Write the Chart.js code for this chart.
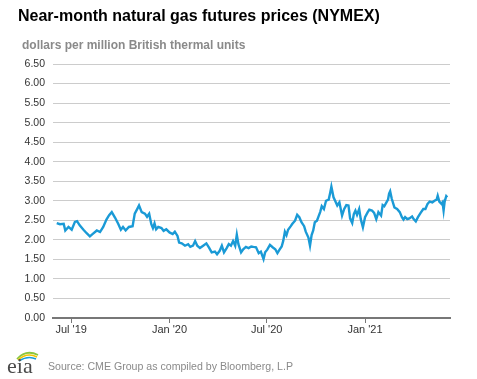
<!DOCTYPE html>
<html>
<head>
<meta charset="utf-8">
<script src="https://cdn.jsdelivr.net/npm/chart.js@4/dist/chart.umd.min.js"></script>
<style>
  html, body { margin:0; padding:0; background:#fff; }
  #wrap { position:relative; width:477px; height:379px; overflow:hidden; font-family:"Liberation Sans", Arial, sans-serif; }
  #c { position:absolute; left:0; top:0; }
  .title { position:absolute; left:18px; top:7px; font-size:16px; font-weight:bold; color:#000; white-space:nowrap; }
  .sub { position:absolute; left:22px; top:38px; font-size:12px; font-weight:bold; color:#8a8a8a; white-space:nowrap; }
  .src { position:absolute; left:48px; top:360px; font-size:10.6px; color:#8a8a8a; white-space:nowrap; }
  #logo { position:absolute; left:6px; top:346px; }
</style>
</head>
<body>
<div id="wrap">
  <canvas id="c" width="477" height="379"></canvas>
  <div class="title">Near-month natural gas futures prices (NYMEX)</div>
  <div class="sub">dollars per million British thermal units</div>
  <svg id="logo" width="36" height="30" viewBox="0 0 36 30">
    <path d="M11 13 Q20 3 32 9" stroke="#8cc63f" stroke-width="1.8" fill="none"/>
    <path d="M12 14 Q21 6 31 11" stroke="#f2c500" stroke-width="1.5" fill="none"/>
    <path d="M13 15 Q22 9 30 13" stroke="#1a9cd8" stroke-width="1.5" fill="none"/>
    <text x="1" y="27" font-family="Liberation Serif, DejaVu Serif, serif" font-size="22" fill="#4a4a4a">eia</text>
  </svg>
  <div class="src">Source: CME Group as compiled by Bloomberg, L.P</div>
</div>
<script>
const dates = [
 '2019-06-04','2019-06-10','2019-06-17','2019-06-20','2019-06-26','2019-07-02','2019-07-08','2019-07-12','2019-07-17','2019-07-24',
 '2019-07-30','2019-08-05','2019-08-11','2019-08-18','2019-08-24','2019-08-30','2019-09-05','2019-09-10','2019-09-15','2019-09-21',
 '2019-09-27','2019-10-02','2019-10-06','2019-10-11','2019-10-17','2019-10-24','2019-10-28','2019-11-02','2019-11-05','2019-11-10',
 '2019-11-16','2019-11-20','2019-11-24','2019-11-28','2019-12-01','2019-12-04','2019-12-07','2019-12-11','2019-12-17','2019-12-21',
 '2019-12-26','2020-01-01','2020-01-07','2020-01-11','2020-01-16','2020-01-19','2020-01-24','2020-01-30','2020-02-05','2020-02-09',
 '2020-02-14','2020-02-18','2020-02-22','2020-02-27','2020-03-04','2020-03-10','2020-03-15','2020-03-20','2020-03-26','2020-03-30',
 '2020-04-04','2020-04-08','2020-04-12','2020-04-17','2020-04-21','2020-04-25','2020-04-29','2020-05-03','2020-05-06','2020-05-09',
 '2020-05-14','2020-05-18','2020-05-23','2020-05-28','2020-06-02','2020-06-06','2020-06-11','2020-06-16','2020-06-20','2020-06-25',
 '2020-06-28','2020-07-02','2020-07-07','2020-07-12','2020-07-17','2020-07-21','2020-07-25','2020-07-29','2020-08-01','2020-08-04',
 '2020-08-07','2020-08-10','2020-08-15','2020-08-18','2020-08-23','2020-08-27','2020-08-31','2020-09-04','2020-09-09','2020-09-12',
 '2020-09-17','2020-09-20','2020-09-23','2020-09-26','2020-09-29','2020-10-03','2020-10-06','2020-10-09','2020-10-12','2020-10-16',
 '2020-10-20','2020-10-25','2020-10-28','2020-10-30','2020-11-03','2020-11-06','2020-11-10','2020-11-14','2020-11-19','2020-11-23',
 '2020-11-27','2020-12-01','2020-12-04','2020-12-08','2020-12-11','2020-12-14','2020-12-17','2020-12-21','2020-12-24','2020-12-28',
 '2021-01-01','2021-01-06','2021-01-09','2021-01-14','2021-01-18','2021-01-22','2021-01-26','2021-01-31','2021-02-03','2021-02-06',
 '2021-02-10','2021-02-13','2021-02-15','2021-02-17','2021-02-20','2021-02-25','2021-03-02','2021-03-07','2021-03-11','2021-03-14',
 '2021-03-17','2021-03-21','2021-03-25','2021-03-30','2021-04-02','2021-04-06','2021-04-10','2021-04-15','2021-04-20','2021-04-24',
 '2021-04-28','2021-05-02','2021-05-07','2021-05-11','2021-05-15','2021-05-17','2021-05-20','2021-05-24','2021-05-26','2021-05-28',
 '2021-05-30','2021-06-02','2021-06-04'
];
const prices = [
 2.43,2.40,2.41,2.24,2.33,2.26,2.46,2.48,2.37,2.26,
 2.17,2.09,2.16,2.24,2.20,2.33,2.52,2.63,2.71,2.57,
 2.41,2.26,2.33,2.24,2.33,2.35,2.67,2.80,2.88,2.71,
 2.67,2.59,2.67,2.40,2.30,2.42,2.27,2.33,2.30,2.23,
 2.27,2.19,2.15,2.21,2.10,1.93,1.91,1.85,1.89,1.82,
 1.85,1.97,1.85,1.79,1.85,1.91,1.80,1.68,1.70,1.63,
 1.72,1.85,1.68,1.79,1.89,1.85,1.97,1.85,2.13,1.89,
 1.68,1.76,1.82,1.79,1.83,1.82,1.81,1.66,1.70,1.51,
 1.68,1.75,1.87,1.81,1.76,1.66,1.75,1.83,1.98,2.21,
 2.12,2.26,2.35,2.41,2.49,2.64,2.58,2.45,2.35,2.21,
 2.06,1.85,2.12,2.24,2.45,2.49,2.60,2.71,2.86,2.79,
 3.00,3.03,3.22,3.36,3.09,3.00,2.88,2.96,2.62,2.79,
 2.89,2.88,2.55,2.43,2.66,2.75,2.64,2.79,2.53,2.32,
 2.58,2.71,2.77,2.75,2.69,2.53,2.71,2.62,2.89,2.86,
 2.96,3.03,3.18,3.24,3.05,2.83,2.79,2.71,2.58,2.52,
 2.58,2.53,2.55,2.60,2.53,2.47,2.58,2.69,2.79,2.79,
 2.92,2.98,2.96,3.00,3.03,3.13,2.98,2.92,2.96,2.75,
 2.98,3.12,3.09
];
const xTickDates = ['2019-07-01','2020-01-01','2020-07-01','2021-01-01'];
const xTickLabels = ["Jul '19","Jan '20","Jul '20","Jan '21"];
const xRange = ['2019-05-28','2021-06-09'];
const yTickMin = 0, yTickMax = 6.5, yTickStep = 0.5;

const toDay = s => Date.parse(s + 'T00:00:00Z') / 864e5;
const tickVals = xTickDates.map(toDay);
const points = dates.map((d, i) => ({ x: toDay(d), y: prices[i] }));
const FONT = '"Liberation Sans", Arial, sans-serif';

new Chart(document.getElementById('c'), {
  type: 'line',
  data: { datasets: [{ data: points, borderColor: '#1a9ad6', borderWidth: 2.4, pointRadius: 0, tension: 0, fill: false }] },
  options: {
    responsive: false, animation: false,
    layout: { padding: { top: 64, right: 27, left: 0, bottom: 0 } },
    plugins: { legend: { display: false }, tooltip: { enabled: false } },
    scales: {
      x: {
        type: 'linear', min: toDay(xRange[0]), max: toDay(xRange[1]),
        afterBuildTicks: s => { s.ticks = tickVals.map(v => ({ value: v })); },
        afterFit: s => { s.height = 61; },
        ticks: { autoSkip: false, maxRotation: 0, padding: 0, color: '#333', font: { family: FONT, size: 11 },
          callback: v => { const i = tickVals.indexOf(v); return i >= 0 ? xTickLabels[i] : ''; } },
        grid: { drawOnChartArea: false, drawTicks: true, tickLength: 5, color: '#777', lineWidth: 1 },
        border: { display: true, color: '#777', width: 2 }
      },
      y: {
        min: yTickMin, max: yTickMax,
        afterFit: s => { s.width = 53; },
        ticks: { stepSize: yTickStep, padding: 8, color: '#333', font: { family: FONT, size: 10.5 },
          callback: v => Number(v).toFixed(2) },
        grid: { color: '#cccccc', lineWidth: 1, drawTicks: false },
        border: { display: false }
      }
    }
  }
});
</script>
</body>
</html>
